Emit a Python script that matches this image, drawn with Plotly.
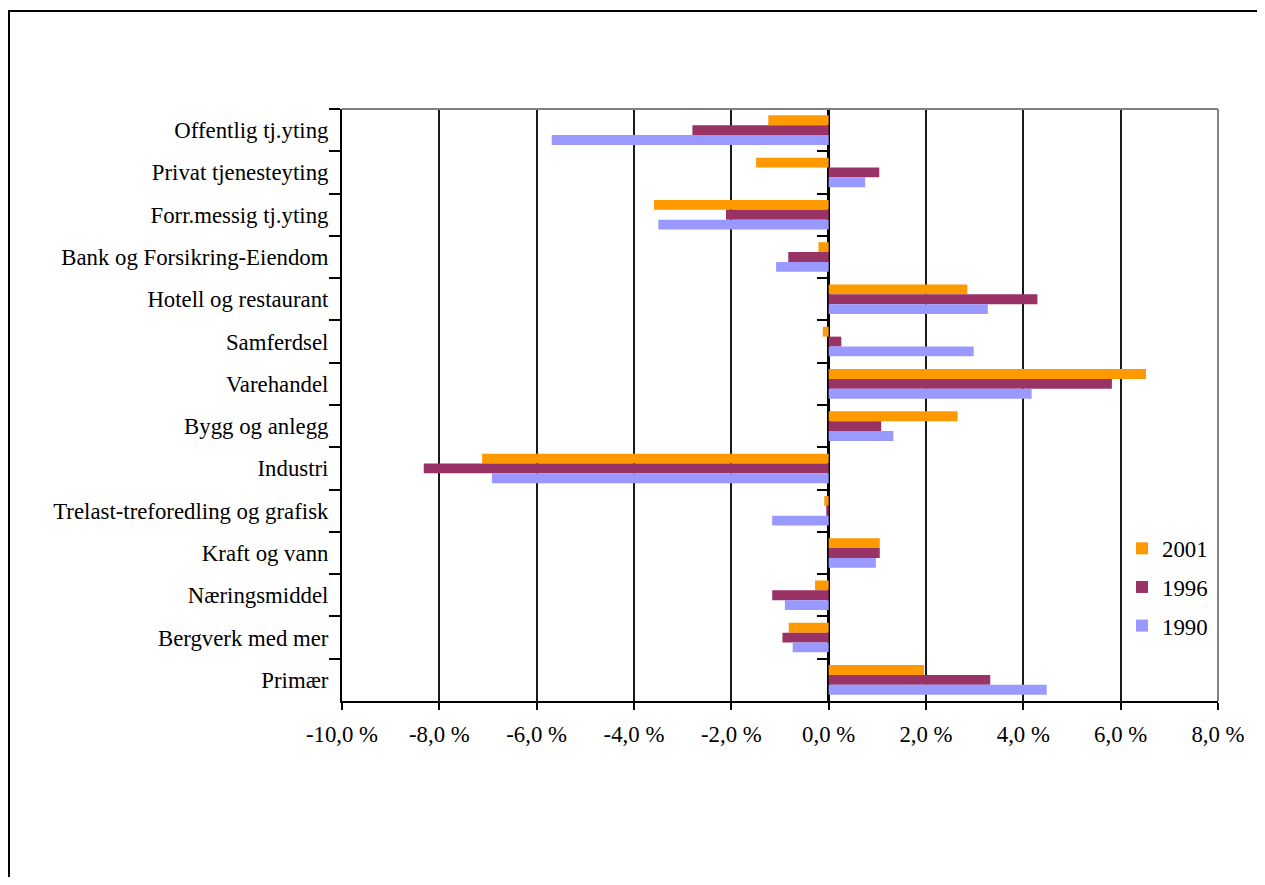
import plotly.graph_objects as go

categories = [
    "Offentlig tj.yting",
    "Privat tjenesteyting",
    "Forr.messig tj.yting",
    "Bank og Forsikring-Eiendom",
    "Hotell og restaurant",
    "Samferdsel",
    "Varehandel",
    "Bygg og anlegg",
    "Industri",
    "Trelast-treforedling og grafisk",
    "Kraft og vann",
    "Næringsmiddel",
    "Bergverk med mer",
    "Primær",
]

v2001 = [-1.24, -1.49, -3.59, -0.21, 2.85, -0.12, 6.52, 2.65, -7.12, -0.09, 1.05, -0.28, -0.82, 1.96]
v1996 = [-2.80, 1.04, -2.11, -0.83, 4.29, 0.26, 5.82, 1.08, -8.32, -0.05, 1.05, -1.16, -0.95, 3.32]
v1990 = [-5.69, 0.75, -3.50, -1.08, 3.27, 2.98, 4.17, 1.33, -6.92, -1.16, 0.97, -0.90, -0.74, 4.48]

series_names = ["2001", "1996", "1990"]
series_values = [v2001, v1996, v1990]
series_colors = ["#FF9900", "#993366", "#9999FF"]

x_tickvals = [-10, -8, -6, -4, -2, 0, 2, 4, 6, 8]
x_ticktext = ["-10,0 %", "-8,0 %", "-6,0 %", "-4,0 %", "-2,0 %", "0,0 %", "2,0 %", "4,0 %", "6,0 %", "8,0 %"]

FONT = "Liberation Serif, Times New Roman, serif"
FS = 22.8

fig = go.Figure()
for name, vals, col in zip(series_names, series_values, series_colors):
    fig.add_trace(go.Bar(
        x=vals, y=categories, orientation="h", name=name,
        marker=dict(color=col, line=dict(width=0)),
        legendgroup=name,
    ))

# invisible helper trace so that the category axis at zero draws its ticks
fig.add_trace(go.Scatter(
    x=[0] * len(categories), y=categories, yaxis="y2", mode="lines",
    line=dict(width=0), opacity=0, showlegend=False, hoverinfo="skip",
))

OFF = 8  # default page body margin
PAGE_W, PAGE_H = 1265, 885
W, H = PAGE_W - 2 * OFF, PAGE_H - 2 * OFF
# plot area in page pixels
L, R, T, B = 342, 1218, 109, 701
pw, ph = R - L, B - T
zero_pos = (828.3 - L) / pw
n = len(categories)

fig.update_layout(
    width=W, height=H,
    margin=dict(l=L - OFF, r=W - (R - OFF), t=T - OFF, b=H - (B - OFF), pad=0),
    paper_bgcolor="white", plot_bgcolor="white",
    barmode="group", bargap=0.3, bargroupgap=0,
    font=dict(family=FONT, size=FS, color="black"),
    showlegend=True,
    legend=dict(
        x=(1122 - L) / pw, xanchor="left",
        y=(B - 527) / ph, yanchor="top",
        traceorder="grouped", tracegroupgap=6,
        bgcolor="rgba(0,0,0,0)", borderwidth=0,
        font=dict(family=FONT, size=FS, color="black"),
        itemwidth=30,
    ),
    xaxis=dict(
        range=[-10, 8], tickvals=x_tickvals, ticktext=x_ticktext,
        showgrid=True, gridcolor="#1a1a1a", gridwidth=2,
        zeroline=True, zerolinecolor="black", zerolinewidth=3,
        showline=True, linecolor="black", linewidth=2,
        ticks="outside", ticklen=7, tickwidth=2, tickcolor="black",
        ticklabelstandoff=5,
        tickfont=dict(family=FONT, size=FS, color="black"),
    ),
    yaxis=dict(
        type="category", categoryorder="array", categoryarray=categories,
        range=[n - 0.5, -0.5], autorange=False,
        showgrid=False, zeroline=False,
        showline=True, linecolor="black", linewidth=2,
        ticks="outside", tickson="boundaries", ticklen=11, tickwidth=2, tickcolor="black",
        tickfont=dict(family=FONT, size=FS, color="black"),
        ticklabelstandoff=7,
    ),
    yaxis2=dict(
        overlaying="y", matches="y", anchor="free", position=zero_pos, side="left",
        type="category", categoryorder="array", categoryarray=categories,
        showgrid=False, zeroline=False, showline=False,
        ticks="outside", tickson="boundaries", ticklen=11, tickwidth=2, tickcolor="black",
        showticklabels=False,
    ),
    shapes=[
        # plot area border (top / right in grey)
        dict(type="line", xref="paper", yref="paper", x0=0, x1=1, y0=1, y1=1,
             line=dict(color="#808080", width=2), layer="above"),
        dict(type="line", xref="paper", yref="paper", x0=1, x1=1, y0=0, y1=1,
             line=dict(color="#808080", width=2), layer="above"),
        # outer chart border
        dict(type="rect", xref="paper", yref="paper",
             x0=(9 - L) / pw, x1=(PAGE_W + 20 - L) / pw,
             y0=(B - (PAGE_H + 20)) / ph, y1=(B - 11) / ph,
             line=dict(color="black", width=2), layer="above"),
    ],
)

fig.write_html("out.html")
